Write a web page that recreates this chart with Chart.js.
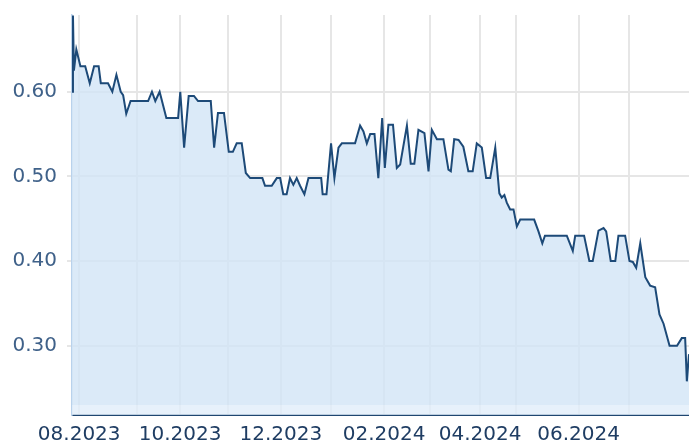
<!DOCTYPE html>
<html><head><meta charset="utf-8">
<script src="https://cdn.jsdelivr.net/npm/chart.js@4.4.1/dist/chart.umd.min.js"></script>
<style>html,body{margin:0;padding:0;background:#fff;overflow:hidden}#wrap{width:689px;height:443px;position:relative}</style>
</head><body><div id="wrap"><canvas id="c" width="689" height="443"></canvas></div>
<script>
// trading-session position of each turning point of the price line
const sessions = [0,0.4,0.8,1.8,3.5,5.5,7.4,9.2,11.1,12,15,16.8,18.5,20.3,21.3,22.6,24.4,31.7,33.3,34.7,36.5,39.3,44.2,45.1,46.7,48.6,50.8,52.5,57.8,59.2,60.8,63.3,65.3,67,68.6,70.7,72.4,74.2,79.3,80.4,83.2,85.3,86.7,88,89.4,90.8,92.2,93.6,95,96.8,98.5,103.8,104.4,106,107.9,109.3,111,112.4,117.9,120,121.4,122.8,124.2,126,127.6,129.2,130.3,131.8,133.7,135.3,136.7,139.5,141.1,142.6,144.3,146.8,148.5,149.9,152,154.7,156.8,157.8,159.2,161,163,165.1,166.9,168.6,170.7,172.5,174.2,176.3,178,179,180.1,181.1,182.5,183.9,185.3,186.7,192.5,194.3,195.9,197,206.1,208.6,209.6,213.3,215.5,216.9,219.3,221.4,222.5,224.4,226.3,227.6,230.4,232.2,233.6,235,236.7,238.8,240.8,242.9,244.7,246.4,248.9,252,254,255.4,256.1,257];
const prices = [0.600,0.690,0.625,0.650,0.630,0.630,0.610,0.630,0.630,0.610,0.610,0.600,0.620,0.600,0.596,0.574,0.589,0.589,0.600,0.589,0.600,0.569,0.569,0.600,0.534,0.595,0.595,0.589,0.589,0.534,0.575,0.575,0.529,0.529,0.539,0.539,0.504,0.498,0.498,0.489,0.489,0.498,0.498,0.479,0.479,0.498,0.490,0.498,0.489,0.479,0.498,0.498,0.479,0.479,0.539,0.498,0.534,0.539,0.539,0.560,0.553,0.539,0.550,0.550,0.498,0.569,0.510,0.561,0.561,0.510,0.514,0.560,0.515,0.515,0.555,0.551,0.506,0.555,0.544,0.544,0.508,0.506,0.544,0.543,0.535,0.506,0.506,0.539,0.534,0.498,0.498,0.534,0.480,0.475,0.478,0.469,0.461,0.461,0.441,0.449,0.449,0.435,0.421,0.430,0.430,0.412,0.430,0.430,0.400,0.400,0.436,0.439,0.435,0.400,0.400,0.430,0.430,0.400,0.399,0.392,0.421,0.381,0.371,0.369,0.337,0.326,0.300,0.300,0.309,0.309,0.258,0.290];
// first session of each month and its label (every other month labelled)
const monthTicks = [3,27,45,65,87,108,130,149,170,185,211,232];
const monthLabels = ['08.2023','','10.2023','','12.2023','','02.2024','','04.2024','','06.2024',''];
const yTicks = [0.30,0.40,0.50,0.60];
const yMin = 0.2182, yMax = 0.6906, fillBase = 0.23, xMax = 257;

const bandPlugin = {
  id:'band',
  beforeDatasetsDraw(chart){
    const {ctx, chartArea:a, scales:{y}} = chart;
    const top = y.getPixelForValue(fillBase);
    ctx.save();
    ctx.fillStyle = 'rgba(225,238,250,0.8)';
    ctx.fillRect(a.left, top, a.right - a.left, a.bottom - top);
    ctx.restore();
  }
};

new Chart(document.getElementById('c'), {
  type:'line',
  data:{datasets:[{
    data: sessions.map((s,i)=>({x:s, y:prices[i]})),
    borderColor:'#1d4a78', borderWidth:2, pointRadius:0, tension:0,
    fill:{value:fillBase}, backgroundColor:'rgba(210,229,246,0.8)'
  }]},
  options:{
    responsive:false, animation:false, devicePixelRatio:1,
    layout:{padding:{top:15,right:0,left:0,bottom:0}},
    plugins:{legend:{display:false}, tooltip:{enabled:false}},
    scales:{
      x:{type:'linear', min:0, max:xMax,
        afterBuildTicks(ax){ ax.ticks = monthTicks.map(v=>({value:v})); },
        afterFit(ax){ ax.height = 28; ax.paddingLeft = 0; ax.paddingRight = 0; },
        ticks:{autoSkip:false, maxRotation:0, padding:8, color:'#1f3d63',
          font:{family:'DejaVu Sans', size:20},
          callback:(v,i)=>monthLabels[i]},
        grid:{color:'#e6e6e6', lineWidth:2, drawTicks:false},
        border:{color:'#1f4670', width:2}
      },
      y:{min:yMin, max:yMax,
        afterBuildTicks(ax){ ax.ticks = yTicks.map(v=>({value:v})); },
        afterFit(ax){ ax.width = 72; ax.paddingTop = 0; ax.paddingBottom = 0; },
        ticks:{padding:10, color:'#3f6189', font:{family:'DejaVu Sans', size:20},
          callback:v=>Number(v).toFixed(2)},
        grid:{color:'#e6e6e6', lineWidth:2, tickLength:5},
        border:{color:'#b9d2ec', width:1.5}
      }
    }
  },
  plugins:[bandPlugin]
});
</script></body></html>
